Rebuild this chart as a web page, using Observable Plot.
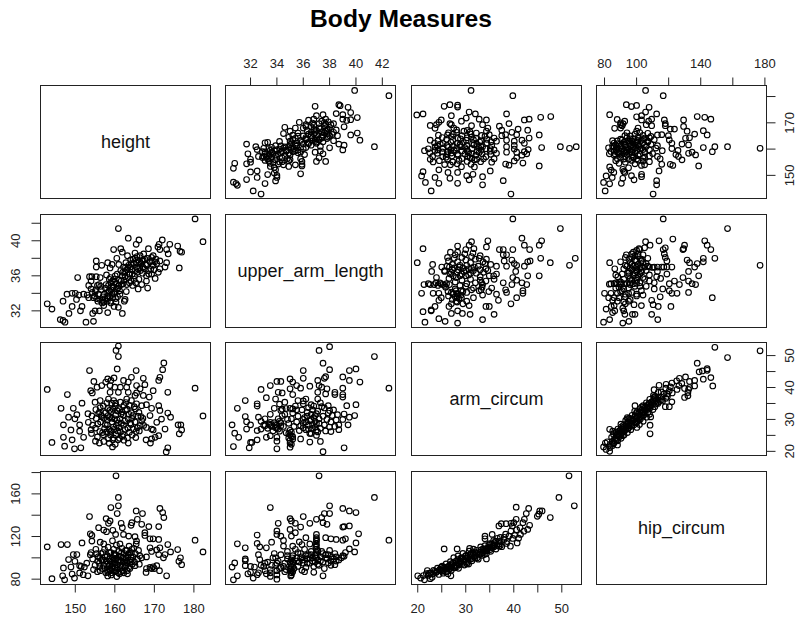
<!DOCTYPE html>
<html><head><meta charset="utf-8">
<script src="https://cdn.jsdelivr.net/npm/d3@7"></script>
<script src="https://cdn.jsdelivr.net/npm/@observablehq/plot@0.6"></script>
<style>
html,body{margin:0;padding:0;background:#fff;}
#chart{position:relative;width:797px;height:619px;overflow:hidden;font-family:"Liberation Sans",Arial,sans-serif;}
#title{position:absolute;left:0;top:5px;width:802px;text-align:center;font-weight:bold;font-size:24.6px;line-height:28px;color:#000;}
#chart svg{position:absolute;overflow:visible;}
</style></head><body>
<div id="chart"><div id="title">Body Measures</div></div>
<script>
const variableNames = ["height","upper_arm_length","arm_circum","hip_circum"];
const heightDomain = [141.2,184.2];
const armLengthDomain = [30.1,43];
const armCircumDomain = [18.7,54.1];
const hipDomain = [75,181];
const heightTicks = [150,160,170,180];
const heightYLabels = [150,170];
const armLengthTicks = [32,34,36,38,40,42];
const armLengthYLabels = [32,36,40];
const armCircumTicks = [20,25,30,35,40,45,50];
const armCircumXLabels = [20,30,40,50];
const hipTicks = [80,100,120,140,160,180];
const hipXLabels = [80,100,140,180];
const hipYLabels = [80,120,160];

// [height, upper_arm_length]
const heightArmLength = [[180.3,42.5],[182.3,39.9],[160.9,41.4],[163.4,40.3],[166.1,40.1],[165.4,39.6],[172,40.1],[171.2,39.6],[170.9,39.3],[173.9,39.6],[175.9,39.4],[173.1,39],[171.4,39],[168.5,39.1],[173.5,38.5],[176.9,38.7],[176.5,38.8],[176.3,36.9],[169.7,38.3],[169.3,38.1],[170.4,37.9],[171.4,37.7],[173.1,37.5],[172.7,37],[171.4,36.8],[170.6,37.4],[169.7,37.2],[170.2,35.7],[169.3,36.2],[168,35.4],[168.3,34.6],[159.7,39],[161.5,39.1],[161.9,38.7],[160.5,38],[155.3,37.7],[155.3,37],[156.7,37.2],[158.2,37.5],[150.6,35.8],[165.1,38.6],[153.6,35.9],[154.2,35.9],[155.3,35.9],[156.3,35.8],[154,35.4],[153.4,34.9],[154,34.5],[155.1,34.2],[142.9,32.8],[144.1,32.2],[146.9,33.1],[147.9,33.9],[149.2,34],[150,34],[149.2,32.5],[150.3,33.3],[150.9,33.8],[152.1,33.9],[153.4,33.5],[151.7,32.5],[151.3,32],[148.4,31.7],[146.2,31],[146.9,30.9],[147.4,30.7],[152.7,30.7],[154.6,30.8],[154.4,31.7],[155,32],[156.1,32],[158.2,31.8],[157.2,32.6],[157.2,33],[159.8,32.5],[160.9,32.4],[161.9,31.7],[162.6,33.3],[162.4,33.1],
[154.3,34.1],[154.9,33.7],[155.4,33.4],[155.9,33.9],[156.2,33.3],[156.6,34.4],[157,33.6],[157.3,33.9],[157.6,34.6],[158,33.4],[158.2,34.1],[158.4,34.9],[158.7,33.6],[159,34.4],[159,35.2],[159.3,33.9],[159.6,34.7],[159.7,35.6],[160,34.2],[160.2,33.4],[160.4,35.1],[160.6,36.2],[160.8,34.6],[161.1,35.5],[161.3,33.9],[161.5,36.6],[161.7,35],[161.9,36],[162.2,37],[162.3,35.5],[162.5,36.4],[162.8,37.5],[163,35],[163.1,36.7],[163.3,35.8],[163.5,37.2],[163.8,36.2],[164,37.8],[164.1,35.4],[164.3,36.7],[164.5,34.9],[164.7,37.4],[165,36],[165.1,38],[165.3,35.2],[165.5,37],[165.7,36.4],[165.9,37.8],[166.1,35.6],[166.3,36.9],[166.6,37.4],[166.8,35],[167,36.3],[167.2,37.8],[167.5,36.8],[167.8,37.3],[168,36],[168.2,38],[168.5,36.6],[168.9,37.6],[163.2,38.3],[166.4,38.3],[167.3,38.5],[158.8,36.9],[159.3,37.3],[157.9,36.1],[158.6,35.6],[161.2,34.3],[162.9,34.2],[165.9,34.5],[156,35],[155.6,34.9],[153,33.8],[158.1,33.1],[159,32.9],[160.3,33],[156.8,32.9],[161,37.3],[169.9,36.7],[171,36.4],
[154.6,33.5],[155.2,34.4],[155.7,33.1],[156.4,34.8],[156.9,33.2],[157.5,33.4],[157.8,35],[158.3,33.7],[158.6,34.3],[158.9,33.1],[159.2,34.7],[159.5,33.5],[159.8,34],[160,35.3],[160.4,34.5],[160.7,33.6],[159.4,35.4],[158.9,35.8],[160.1,36],[161,34.9],[161.6,35.4],[162,36.4],[162.6,35.9],[162.7,37],[163.3,36.9],[163.6,36.2],[163.9,37],[164.2,37.4],[164.4,36.2],[164.6,37.9],[165.2,36.6],[165.4,37.5],[165.6,38.2],[165.8,36.8],[166.2,37.6],[166.5,36.6],[166.9,37.7],[167.1,37],[167.6,37.9],[168.1,37.2],[168.6,36.2],[169.1,36.8],[169.5,37.7],[170.1,37.6],[162.1,35.1],[164.9,35.6],[163.7,35.2]];

// [height, arm_circum]
const heightArmCircum = [[160.9,53],[160.3,51.6],[160.9,49.7],[153.6,45.3],[160.6,45.8],[165.4,45.3],[172.4,47.7],[172.1,45.6],[171.4,43.2],[171.1,42.2],[142.9,39.4],[148,37.8],[180.3,39.8],[182.3,31.1],[173.4,38.5],[169.7,39],[146.4,33.5],[149.5,33.5],[151.7,35.1],[148.3,30.7],[150.4,31.5],[149.9,30.2],[147,28.3],[148.9,26.7],[151.1,28.3],[151.1,26.3],[152.1,24.4],[147,24.4],[149.2,23.6],[144.1,22.8],[147.3,21.6],[149.8,20.8],[151.4,21.1],[173.4,21.1],[173,19.8],[176,28.3],[176.7,28.3],[176.9,26.7],[176.3,25.5],[174.1,30.7],[173.4,32],[172.7,27],[171.1,24.9],[169.7,26.7],[170.6,29.1],[171.8,30.1],[171.1,34.3],[171.4,32.8],[169.3,33.5],[168,34.6],[168.9,31.2],[169.3,23.9],[167.9,23.6],[169,22.6],[170.2,24.4],[169.3,27],[168,27.5],[166.8,29.6],[167.2,42.9],[164.2,43.2],[162.2,42.2],[163.4,41.7],[159.8,43],[158.2,42.7],[159,42.2],[154.7,41.9],[157.7,41.7],[155.5,40.1],[156.7,40.6],[158.8,40.6],[160,40.1],[161.4,40.1],[163,40.1],[165.5,40.6],[167.6,40.9],[153.9,39],[154.3,38.3],[158.8,38.5],[160.9,38.5],[163.4,38.5],[165.1,37.5],[165.5,38.3],[167.2,37.5],[168.7,37],[166.4,39.6],[156.3,35.9],[155,35.4],[158.4,36.4],[159.7,35.9],[161.4,35.4],[163,36.4],[164.2,35.9],[165.5,34.9],[166.8,34.3],
[155.2,33.1],[156.1,32.3],[157.1,34.2],[158.2,33.4],[159.2,35.1],[160.1,34.2],[161.2,33.1],[162.3,34.4],[163.1,33.2],[164.2,32.1],[165.2,33.3],[166.1,32.2],[154.2,31.1],[155.3,30.3],[156.4,29.2],[157.2,30.4],[158.3,31.2],[159.1,32.4],[160.2,31.3],[161.3,30.2],[162.1,31.4],[163.4,30.1],[164.3,30.3],[165.1,29.2],[166.4,28.1],[167.1,30.3],[153.3,29.1],[154.4,28.2],[155.1,27.3],[156.2,26.2],[157.4,27.1],[158.1,28.3],[159.3,29.2],[160.4,28.1],[161.1,27.4],[162.2,28.2],[163.3,27.3],[164.1,28.4],[165.4,26.2],[166.2,26.4],[167.3,28.1],[154.1,25.6],[155.6,24.5],[157.1,25.2],[158.4,24.1],[159.1,26.3],[160.3,25.2],[161.4,26.1],[162.1,25.3],[163.2,24.2],[164.4,25.1],[165.3,24.3],[157.2,23.1],[158.6,22.5],[160.1,22.2],[159.5,23.6],[156.1,22.6],[162.3,23.5],[163.4,22.6],[161.2,24.1],[159.4,21.4],[155.1,23.2],[154,26.8],[153.2,31.8],[159.2,30.4],[160.6,29.8],[161.8,32.3],[163.7,34.4],[158.5,27],[159.8,26.9],[160.9,33.5],
[156.6,31.3],[157.7,32.1],[158.7,30.6],[159.6,33.2],[159.9,30.2],[160.6,32.7],[160.9,28.9],[161.6,31.7],[162.5,29.5],[162.7,32.9],[163.6,31.6],[163.9,28.9],[164.6,31.2],[158.9,26.2],[158.1,29.8],[157.6,28.4],[156.7,30.9],[155.7,28.6],[156.9,25.9],[158.9,25.1],[159.6,27.6],[160.7,26.4],[161.7,28.8],[162.6,26.9],[163.7,26],[164.7,27],[165.7,27.4],[159.7,24.2],[160.8,23.6],[157.9,26.1],[155.9,31.8],[156.3,33.7],[158,35.2],[160.2,35.1],[162.8,35.3],[164.9,34],[165.8,31],[166.6,30.9],[161.9,24.7],[158.7,32.8]];

// [height, hip_circum]
const heightHip = [[160.3,177],[160.9,156.7],[159,147.2],[160.9,148.8],[160.6,141.6],[153.6,138.7],[165.4,144],[167,141.6],[171.4,146.3],[172.1,142.5],[172.4,137.8],[157.8,136.8],[158.8,134.6],[158.4,132.4],[165.7,136.2],[164.3,133],[164.1,130.5],[166.8,131.5],[168.6,129.3],[171.1,129.3],[161.6,132.4],[161.9,128.3],[155.9,128.3],[157.2,126.1],[157.9,124.5],[159.5,125.8],[153.8,122.6],[154.2,121],[160.2,122],[162.2,122],[163.5,120.4],[165.1,119.8],[167.6,123.6],[167.6,121],[168.9,117.9],[169.7,117.9],[171.1,117.3],[165.5,115.7],[156.3,114.7],[154.2,115.7],[142.9,110.3],[146.4,112.5],[148,112.5],[151.7,114],[148.3,98.4],[149.5,103.1],[150.4,103.1],[149.9,96.8],[147,90.5],[148.9,91.4],[151.1,92.7],[152.3,91.4],[146.8,83.2],[149.2,84.8],[144.1,80.4],[147.3,79.4],[149.8,81],[151.1,85.8],[152,84.2],[153.2,83.2],[151.5,92],[152.9,95],[153.8,103],[180.3,116.6],[182.3,105.6],[175.9,107.8],[173.4,112.5],[174.1,105.6],[172.7,103.1],[171.4,109.4],[171.1,103.1],[172.3,100],[176.6,100],[176.2,96.8],[176.9,93.6],[173.1,83.2],[171.3,87.9],[167.9,86.3],[168,90],[168.9,91],[169.7,91.6],[170.6,92.6],[169.3,90],[170,90],[168,100.9],[166.8,100],[168.9,109.4],[169.3,106],[170.6,107.5],[163.2,85],[165.1,92.7],
[155.2,108],[155.8,101],[156.1,95],[156.5,104],[156.9,90],[157.1,98],[157.4,108],[157.7,86],[157.9,94],[158.1,102],[158.3,110],[158.6,89],[158.8,97],[159,105],[159.1,84],[159.3,92],[159.5,100],[159.7,108],[159.9,87],[160,95],[160.2,103],[160.4,112],[160.6,90],[160.8,98],[161,106],[161.2,85],[161.4,93],[161.6,101],[161.8,109],[162,88],[162.2,96],[162.4,104],[162.6,92],[162.8,100],[163,107],[163.2,95],[163.4,103],[163.6,111],[163.8,90],[164,98],[164.2,105],[164.4,94],[164.6,101],[164.8,109],[165,96],[165.2,104],[165.4,113],[165.7,99],[166,107],[166.3,102],[155,93],[155.6,87],[154.4,99],[154.6,89],[158.2,83],[160.5,82.5],[159.4,116],[161.3,113],[157.2,113],[156.3,88],[154,105],[163.1,88],[166.2,94],[160.1,91],[158.9,93.5],[161.1,96],[159.8,104],
[156.2,92],[156.7,98],[157.2,93],[157.5,101],[157.8,97],[158,89],[158.4,92.5],[158.6,99],[158.7,105],[158.9,88],[159.2,96],[159.4,90],[159.6,94],[159.8,98],[160,102],[160.3,88],[160.5,99.5],[160.7,93.5],[160.9,86],[161.1,101.5],[161.3,90],[161.5,97],[161.7,105],[161.9,92],[162.1,100],[162.3,86],[162.5,97.5],[162.7,107],[162.9,93],[163.1,97],[163.3,100.5],[163.5,91],[163.7,104.5],[163.9,96],[164.1,101],[164.3,108],[155.7,97],[156.2,100],[157,105],[158.2,86.5],[159.2,86],[161.6,87],[155.4,104]];

// [upper_arm_length, arm_circum]
const armLengthArmCircum = [[38,52.8],[37.2,51.6],[41.4,49.7],[37.5,47.6],[38,45.6],[36,45.3],[36,42.9],[39.5,45.3],[40,45.8],[39,43.3],[39.5,42.2],[40.3,41.7],[42.5,39.8],[37.7,43.4],[37.6,42.9],[37.1,42.2],[35,42.7],[35.2,41.7],[34,41.9],[34.3,41.9],[33.5,40.6],[32.8,39.4],[34.1,38.5],[35,39.6],[35.5,40.6],[35.8,39.8],[36.5,40.4],[37.2,40.6],[37.4,40.1],[37.8,39.6],[38.4,38.5],[39,39.8],[39,37.8],[39,37],[38.4,37.8],[37.1,38.5],[37.7,38],[35.2,37.8],[34.4,38.3],[33.2,36.8],[33.9,36.4],[31.6,35.9],[31,33.5],[32.5,34.9],[32.5,34.2],[39.3,34.3],[40,34.6],[37.1,36.4],[36.2,36.4],[35.6,35.9],[34.6,35.4],[33.8,33.5],[34.3,32.8],[35,33.5],[36,34.9],[37.9,34.3],[38,32.8],[38.6,31.5],[39.1,31.7],[39.5,30.7],[39.9,31.2],[39.4,28.3],[31.6,30.9],[32.6,30.7],[31.7,29.3],[32,28.3],[30.6,28.3],[31.7,27],[30.8,25.7],[31.1,24.4],[30.7,21.5],[31.9,21.1],[32,22.8],[32.1,22.8],[32.5,23.6],[34,20.8],[37.5,19.9],[39.1,21.1],[36.5,22.9],[37.3,23.1],[35.8,23.9],[34,23.2],[34,24.4],[35,21.3],[35,22.6],[33.2,24.4],[33.5,24.9],[32.5,26.5],[32.8,27],
[33,28.2],[33.3,27.2],[33.5,29.1],[33.7,26.4],[33.9,28.4],[34,27.4],[34.1,30.2],[34.2,26.3],[34.3,29],[34.5,27.8],[34.4,31.2],[34.7,25.8],[34.9,28.8],[35.1,24.8],[35.1,30.2],[35,26.6],[35.2,32],[35.2,23.8],[35.3,27.8],[35.5,29.2],[35.6,31],[35.7,26.5],[35.9,33],[36,28.8],[36.1,30.6],[36.2,26.8],[36.3,32.2],[36.4,28.2],[36.5,25.6],[36.6,30],[36.7,33],[36.7,27.2],[36.9,31.2],[37,28.7],[37,25],[37.1,32.6],[37.2,30.2],[37.3,27.2],[37.4,34],[37.5,31],[37.6,28.3],[37.7,26.4],[37.8,30],[37.9,32],[38,27.6],[38.1,29.2],[38.2,31.2],[38.4,27.8],[38.5,29.8],[38.7,28.3],[39,30],[36,35.8],[36.6,34.6],[35.4,34.2],[34.7,33.4],[37.3,35.2],[34.2,34.8],[33.5,31.6],[32.8,29.4],[33.1,30.2],
[33.1,28],[33.4,28.6],[33.6,27.8],[33.8,29],[34,28.2],[34.1,27],[34.3,28],[34.2,29.4],[33.9,27.4],[33.5,28.2],[35,25.2],[35.1,26],[34.9,24.2],[35,23.4],[35.1,22.2],[35.2,24.6],[34.9,25.6],[35.8,28],[36,30],[36,27.4],[36.2,29.2],[36.3,31],[36.4,27],[36.5,29.6],[36.6,31.6],[36.7,28.4],[36.8,30.6],[36.9,27.6],[36.9,29.4],[37,31.8],[37,26.6],[37.2,28.8],[35.5,33],[35.2,33.3],[34.8,30],[34.6,31.6],[34.4,33.2],[38.3,33],[37.6,33.6],[36.8,34.2],[36.4,33.7],[38.7,26.8],[38.1,26.2],[37.1,26.1],[36.6,25.6]];

// [upper_arm_length, hip_circum]
const armLengthHip = [[37.2,177],[41.4,156.7],[33.5,147.2],[38,148.8],[39,146.3],[39.5,144],[40,142.5],[38,141.6],[36,138.7],[37.6,141.6],[37.4,137.8],[37,136.2],[35,136.8],[35.1,134.6],[37.5,133],[37.8,131.5],[36.5,132.4],[35.8,128.9],[34.1,132.4],[35.4,132.4],[35,126.7],[35.4,123.6],[39,128.9],[39.5,129.9],[39.1,129.3],[40.2,122.6],[42.5,116.6],[40,114],[39.2,117.9],[39,116.6],[38.5,117.3],[32.5,121.4],[34,125.2],[34,122],[34.3,120.4],[34.5,116.3],[33.6,114.7],[36.2,118.9],[37,122],[37,118.9],[37,115.7],[37.7,118.9],[38.1,117.9],[31,113.2],[31.6,109.4],[32.5,113.5],[32.7,110.3],[33.2,109.4],[35.1,120.4],[35.2,111],[35.9,112.5],[31.6,99],[31.6,97.4],[30.8,95.2],[30.6,91.4],[31.6,92.7],[32,92],[32.6,103],[32.7,98.4],[32.3,91.4],[31,83.2],[30.7,79.4],[31.8,85],[32,86.4],[32.2,81],[32.5,84.2],[33.5,82.6],[34,80],[34,84],[34,88],[37.5,83.2],[36.8,86.4],[35.9,88.3],[39.5,108.4],[39.9,105.6],[39.1,101.5],[38.5,100.9],[38.4,93.6],[39,102],[37.9,95.2],
[33,92],[33.3,96],[33.5,89],[33.7,100],[33.9,93],[34.1,97],[34.3,91],[34.3,103],[34.6,95],[34.8,99],[34.8,106],[35,90],[35.1,94],[35.1,98],[35.1,86],[35.1,84],[35.1,88],[35.1,92],[35.2,96],[35.2,102],[35.4,108],[35.5,97],[35.6,92],[35.8,100],[35.8,104],[36,95],[36.1,108],[36.2,91],[36.3,99],[36.4,103],[36.5,95],[36.6,106],[36.7,100],[36.8,92],[36.9,96],[37,105],[37,108],[37,111],[37,113],[37,103],[37.1,98],[37.2,93],[37.3,101],[37.4,106],[37.5,96],[37.6,90],[37.7,103],[37.8,99],[38,107],[38.1,93],[38.2,101],[38.4,104],[38.7,98],[39.2,105],[33.8,104],[34.5,111],[33.2,85],[33.5,86],[34.6,87],[36.1,87],[38.9,100],[36.5,113],[35.7,115],
[33.1,95],[33.6,93],[34,95],[34.2,90],[34.5,92],[34.7,89],[35,96],[35.05,83],[35.1,90],[35.15,100],[35.2,87],[35.3,90],[35.5,100],[35.7,96],[35.9,101],[36,98],[36.2,102],[36.3,95],[36.5,100],[36.6,103],[36.7,97],[36.9,102],[37,100],[37.1,107],[37,117],[36.95,110],[37.1,94],[37.3,97],[37.5,104],[37.7,100],[37.9,103],[38.1,97],[38.3,99],[38.5,97],[35.6,105],[33.9,100],[33.1,88],[32.8,93],[32.6,86],[34.8,102]];

// [arm_circum, hip_circum]
const armCircumHip = [[51.5,177],[49.4,156.7],[52.6,148.8],[47.6,137.8],[45.4,144],[45.9,144],[45.2,141],[44.9,139],[43.1,146.3],[42.6,141.6],[40.5,147.5],[42.2,136.2],[41.9,133],[43.3,130.5],[42.9,126.7],[42.1,125],[40.5,136.2],[40,133],[39.7,129.9],[36.9,129.9],[37.4,132],[38.4,132],[39.4,132.4],[41.4,122],[40.7,114],[39.3,110.9],[38.5,113.5],[37.2,111.6],[35.5,122],[34,120.4],[34,117.9],[25.5,108.4],[28.2,108.4],[26.9,83.2],[20,83.2],[20.6,81],[21.4,79.4],[22.6,80.5],[34.3,99],[30.6,94.2],
[21.2,83.4],[21.8,85.1],[22.2,83.6],[22.7,85.9],[23.1,84.8],[23.3,88.2],[23.8,86.2],[24.1,90.3],[24.4,84.4],[24.8,88.4],[25.1,92.2],[25.3,85.6],[25.6,90.4],[25.9,94.3],[26.1,87.2],[26.4,92.1],[26.8,96.4],[27,88.3],[27.2,93.5],[27.5,100.2],[27.7,90.6],[28,95.3],[28.3,98.4],[28.5,90.2],[28.7,93.6],[29,96.4],[29.2,100.3],[29.4,104.1],[29.7,93.2],[30,98.3],[30.1,102.4],[30.4,95.6],[30.7,106.2],[31,100.4],[31.1,104.1],[31.3,97.2],[31.6,108.1],[32,103.3],[32.2,107.1],[32.4,100.2],[32.6,98.8],[33,105.2],[33.1,110.2],[33.4,102.3],[33.8,107.3],[34,111.4],[34.3,104.1],[34.6,109.2],[35,113.3],[35.2,106.1],[35.5,109.4],[35.8,116.2],[36,112.3],[36.3,108.2],[36.6,118.3],[37,115.4],[37.2,119.2],[37.5,110.5],[38,117.1],[38.3,122.2],[38.6,115.3],[39,120.4],[39.4,125.2],[39.8,118.2],[40.2,121.1],[40.6,126.4],[41,118.4],[41.3,128.2],[22,88.1],[23,81.7],[24,87.1],[25,87.4],[26,91.2],[27,91.4],[28,93.1],[29,99.1],[30,96.2],[31,102.3],[32,105.4],[33,103.4],[34,106.3],[35,110.2],[36,114.2],[37,113.2],[38,119.3],[26.5,89.4],[28.8,97.2],[31.8,101.2],[33.6,108.4],[35.7,111.4],[30.3,100.2],[27.4,95.1],
[22.4,85.6],[23.6,87.4],[24.6,89.3],[25.2,90.1],[25.4,88.2],[25.8,86.9],[26.2,90.8],[26.7,93],[26.9,90.2],[27.1,94.6],[27.6,92.1],[27.9,96.8],[28.1,91.7],[28.6,94.8],[28.9,99.6],[29.3,94.7],[29.6,97.8],[29.9,101.6],[30.2,94.4],[30.5,99.7],[30.9,103],[31.2,99.1],[31.5,104.6],[31.9,99.8],[32.3,104.1],[32.7,102.7],[33.2,107.4],[33.5,104.6],[33.9,103.2],[34.2,108.6],[34.4,106.6],[34.8,112],[35.1,107.8],[35.4,113.2],[35.9,110.4],[36.2,115.6],[36.5,111.6],[36.9,110.8],[26.3,85.1],[28.4,101.8],[24.9,91.2],[30.8,108.8]];

const panelLefts = [40,225,411,596];
const panelTops = [85,214,342,471];
const panelWidth = 170, panelHeight = 113;

const axes = [
  {domain:heightDomain, ticks:heightTicks, xLabels:heightTicks, yLabels:heightYLabels},
  {domain:armLengthDomain, ticks:armLengthTicks, xLabels:armLengthTicks, yLabels:armLengthYLabels},
  {domain:armCircumDomain, ticks:armCircumTicks, xLabels:armCircumXLabels, yLabels:armCircumXLabels},
  {domain:hipDomain, ticks:hipTicks, xLabels:hipXLabels, yLabels:hipYLabels}
];
const pairs = {"0,1":heightArmLength,"0,2":heightArmCircum,"0,3":heightHip,"1,2":armLengthArmCircum,"1,3":armLengthHip,"2,3":armCircumHip};

const chart = document.getElementById("chart");
for (let row=0; row<4; row++) for (let col=0; col<4; col++) {
  const ml = col===0?40:1, mr = col===3?31:1, mt = row===0?32:1, mb = row===3?36:(row===2&&col===3?8:1);
  const marks = [];
  if (col!==row) {
    const swap = col>row;
    const rows = swap ? pairs[`${row},${col}`].map(d=>[d[1],d[0]]) : pairs[`${col},${row}`];
    marks.push(Plot.dot(rows,{x:d=>d[0],y:d=>d[1],r:2.8,stroke:"#000",strokeWidth:1.15,fill:"none"}));
  } else {
    marks.push(Plot.text([variableNames[col]],{frameAnchor:"middle",fontSize:18,fill:"#111"}));
  }
  marks.push(Plot.frame({stroke:"#222",strokeWidth:1}));
  const X = axes[col], Y = axes[row];
  if (row===3 && col%2===0) marks.push(Plot.axisX({anchor:"bottom",ticks:X.ticks,tickSize:8.5,tickPadding:10.5,tickFormat:d=>X.xLabels.includes(d)?d:"",label:null}));
  if (row===0 && col%2===1) marks.push(Plot.axisX({anchor:"top",ticks:X.ticks,tickSize:8.5,tickPadding:9.5,tickFormat:d=>X.xLabels.includes(d)?d:"",label:null}));
  if (col===0 && row%2===1) marks.push(Plot.axisY({anchor:"left",ticks:Y.ticks,tickSize:8.5,tickPadding:12.5,tickRotate:-90,textAnchor:"middle",tickFormat:d=>Y.yLabels.includes(d)?d:"",label:null}));
  if (col===3 && row%2===0) marks.push(Plot.axisY({anchor:"right",ticks:Y.ticks,tickSize:8.5,tickPadding:18.5,tickRotate:-90,textAnchor:"middle",tickFormat:d=>Y.yLabels.includes(d)?d:"",label:null}));
  const svg = Plot.plot({
    width:panelWidth+ml+mr, height:panelHeight+mt+mb,
    marginLeft:ml, marginRight:mr, marginTop:mt, marginBottom:mb,
    x:{domain:X.domain,axis:null}, y:{domain:Y.domain,axis:null},
    style:{background:"transparent",fontFamily:"'Liberation Sans',Arial,sans-serif",fontSize:"13px",color:"#222",overflow:"visible"},
    marks
  });
  svg.style.left = (panelLefts[col]-ml)+"px";
  svg.style.top = (panelTops[row]-mt)+"px";
  svg.style.maxWidth = "none";
  chart.appendChild(svg);
}
</script>
</body></html>
